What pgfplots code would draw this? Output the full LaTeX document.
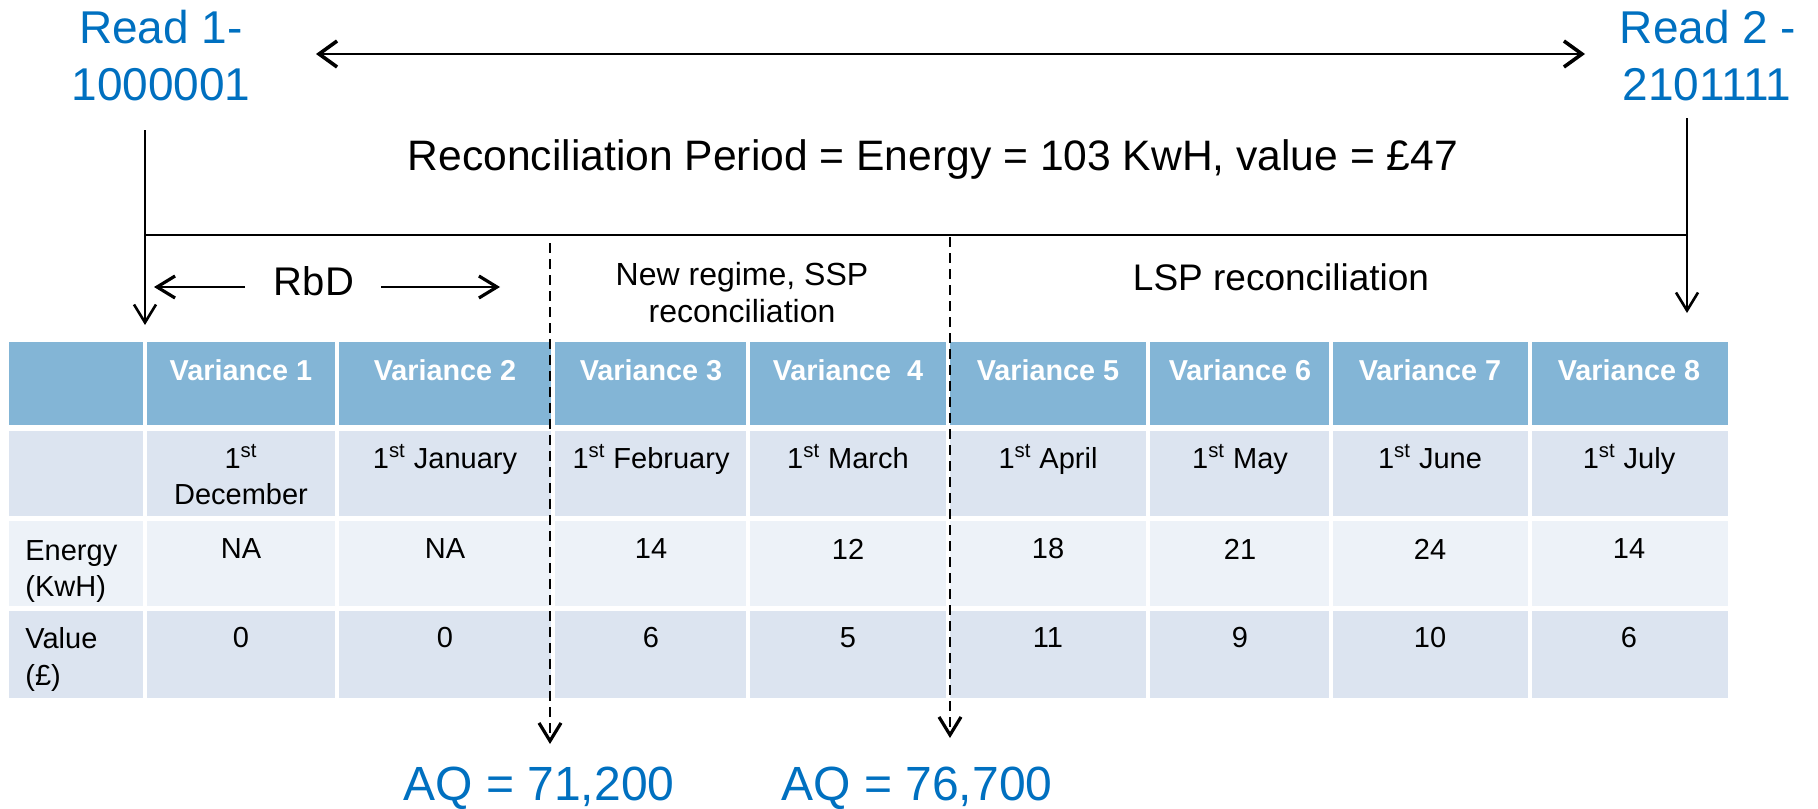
\documentclass[border=0pt]{standalone}
\usepackage{pgfplots}
\pgfplotsset{compat=1.18}
\usepackage{pgfplotstable}
\usepackage{fontspec}
\setmainfont{Liberation Sans}
\usetikzlibrary{arrows.meta}
\definecolor{hdr}{RGB}{131,181,214}
\definecolor{band}{RGB}{220,228,240}
\definecolor{bandl}{RGB}{237,242,248}
\definecolor{blu}{RGB}{0,112,192}

\pgfplotstableread{
x energy value
241 NA 0
445 NA 0
651 14 6
848 12 5
1048 18 11
1240 21 9
1430 24 10
1629 14 6
}\vartable

\newcommand{\fs}[1]{\fontsize{#1}{#1}\selectfont}
\tikzset{
  barb/.style={-{Straight Barb[length=9pt,width=11pt,line width=1.6pt]}},
  barbthin/.style={-{Straight Barb[length=9pt,width=11pt,line width=1.3pt]}},
}

\begin{document}
\begin{tikzpicture}
\begin{axis}[
  width=909pt, height=404pt, scale only axis,
  xmin=0, xmax=1818, ymin=0, ymax=808, y dir=reverse,
  hide axis, clip=false,
]
% table rows
\addplot[fill=hdr, draw=none] coordinates {(9,342)(1728,342)(1728,425)(9,425)} --cycle;
\addplot[fill=band, draw=none] coordinates {(9,431)(1728,431)(1728,516)(9,516)} --cycle;
\addplot[fill=bandl, draw=none] coordinates {(9,521)(1728,521)(1728,606)(9,606)} --cycle;
\addplot[fill=band, draw=none] coordinates {(9,611)(1728,611)(1728,698)(9,698)} --cycle;
% column separators
\pgfplotsinvokeforeach{145,337,553,748,948,1148,1331,1530}{
  \addplot[white, line width=1.8pt] coordinates {(#1,340)(#1,700)};
}
% header labels
\node[white, font=\bfseries\fs{14.4}, anchor=base] at (axis cs:241,380) {Variance 1};
\node[white, font=\bfseries\fs{14.4}, anchor=base] at (axis cs:445,380) {Variance 2};
\node[white, font=\bfseries\fs{14.4}, anchor=base] at (axis cs:651,380) {Variance 3};
\node[white, font=\bfseries\fs{14.4}, anchor=base] at (axis cs:848,380) {Variance\ \ 4};
\node[white, font=\bfseries\fs{14.4}, anchor=base] at (axis cs:1048,380) {Variance 5};
\node[white, font=\bfseries\fs{14.4}, anchor=base] at (axis cs:1240,380) {Variance 6};
\node[white, font=\bfseries\fs{14.4}, anchor=base] at (axis cs:1430,380) {Variance 7};
\node[white, font=\bfseries\fs{14.4}, anchor=base] at (axis cs:1629,380) {Variance 8};
% dates
\node[font=\fs{14.5}, anchor=base] at (axis cs:241,468) {1\textsuperscript{st}};
\node[font=\fs{14.5}, anchor=base] at (axis cs:241,504) {December};
\node[font=\fs{14.5}, anchor=base] at (axis cs:445,468) {1\textsuperscript{st} January};
\node[font=\fs{14.5}, anchor=base] at (axis cs:651,468) {1\textsuperscript{st} February};
\node[font=\fs{14.5}, anchor=base] at (axis cs:848,468) {1\textsuperscript{st} March};
\node[font=\fs{14.5}, anchor=base] at (axis cs:1048,468) {1\textsuperscript{st} April};
\node[font=\fs{14.5}, anchor=base] at (axis cs:1240,468) {1\textsuperscript{st} May};
\node[font=\fs{14.5}, anchor=base] at (axis cs:1430,468) {1\textsuperscript{st} June};
\node[font=\fs{14.5}, anchor=base] at (axis cs:1629,468) {1\textsuperscript{st} July};
% row labels
\node[font=\fs{14.5}, anchor=base west, inner sep=0pt] at (axis cs:25,560) {Energy};
\node[font=\fs{14.5}, anchor=base west, inner sep=0pt] at (axis cs:25,596) {(KwH)};
\node[font=\fs{14.5}, anchor=base west, inner sep=0pt] at (axis cs:25,648) {Value};
\node[font=\fs{14.5}, anchor=base west, inner sep=0pt] at (axis cs:25,685) {(£)};
% data values
\addplot[draw=none, mark=none, nodes near coords, point meta=explicit symbolic,
  nodes near coords align=center, nodes near coords style={anchor=center, font=\fs{14.5}}]
  table[x=x, y expr=549, meta=energy] {\vartable};
\addplot[draw=none, mark=none, nodes near coords, point meta=explicit symbolic,
  nodes near coords align=center, nodes near coords style={anchor=center, font=\fs{14.5}}]
  table[x=x, y expr=638, meta=value] {\vartable};
% top annotations
\node[blu, font=\fs{23}, anchor=base] at (axis cs:161,44) {Read 1-};
\node[blu, font=\fs{23}, anchor=base] at (axis cs:161,100) {1000001};
\node[blu, font=\fs{23}, anchor=base] at (axis cs:1708,44) {Read 2 -};
\node[blu, font=\fs{23}, anchor=base] at (axis cs:1707,100) {2101111};
\addplot[black, line width=1.3pt, {Straight Barb[length=9pt,width=13pt,line width=1.8pt]}-{Straight Barb[length=9pt,width=13pt,line width=1.8pt]}] coordinates {(316,54)(1585,54)};
\node[font=\fs{21.3}, anchor=base] at (axis cs:933,170) {Reconciliation Period = Energy = 103 KwH, value = £47};
\addplot[black, line width=1pt] coordinates {(145,235)(1688,235)};
\addplot[black, line width=0.9pt, barbthin] coordinates {(145,130)(145,325)};
\addplot[black, line width=0.9pt, barbthin] coordinates {(1687,118)(1687,313)};
% RbD
\node[font=\fs{20}, anchor=base] at (axis cs:314,295) {RbD};
\addplot[black, line width=1pt, barb] coordinates {(245,287)(154,287)};
\addplot[black, line width=1pt, barb] coordinates {(381,287)(500,287)};
% regime labels
\node[font=\fs{16}, anchor=base] at (axis cs:742,285) {New regime, SSP};
\node[font=\fs{16}, anchor=base] at (axis cs:742,322) {reconciliation};
\node[font=\fs{18.5}, anchor=base] at (axis cs:1281,290) {LSP reconciliation};
% dashed arrows
\addplot[black, line width=0.8pt, dash pattern=on 5pt off 3pt, barb] coordinates {(550,243)(550,744)};
\addplot[black, line width=0.8pt, dash pattern=on 5pt off 3pt, barb] coordinates {(950,237)(950,738)};
% AQ
\node[blu, font=\fs{24}, anchor=base] at (axis cs:539,800) {AQ = 71,200};
\node[blu, font=\fs{24}, anchor=base] at (axis cs:917,800) {AQ = 76,700};
\end{axis}
\pgfresetboundingbox
\useasboundingbox (current axis.south west) rectangle (current axis.north east);
\end{tikzpicture}
\end{document}
